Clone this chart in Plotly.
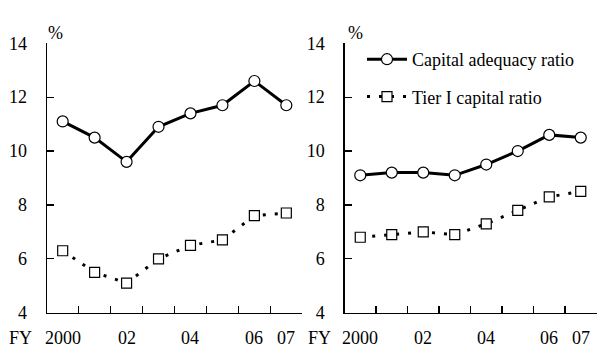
import plotly.graph_objects as go

years = [0, 1, 2, 3, 4, 5, 6, 7]
year_labels = ["2000", "02", "04", "06", "07"]
label_pos = [0, 2, 4, 6, 7]
boundaries = [-0.5, 0.5, 1.5, 2.5, 3.5, 4.5, 5.5, 6.5, 7.5]

major_car = [11.1, 10.5, 9.6, 10.9, 11.4, 11.7, 12.6, 11.7]
major_tier1 = [6.3, 5.5, 5.1, 6.0, 6.5, 6.7, 7.6, 7.7]
regional_car = [9.1, 9.2, 9.2, 9.1, 9.5, 10.0, 10.6, 10.5]
regional_tier1 = [6.8, 6.9, 7.0, 6.9, 7.3, 7.8, 8.3, 8.5]

y_ticks = [4, 6, 8, 10, 12, 14]
FONT = "Liberation Serif, Times New Roman, serif"
FS = 18
W, H = 598, 354

fig = go.Figure()

def add_panel(car, t1, xa, ya, show):
    fig.add_trace(go.Scatter(
        x=years, y=car, xaxis=xa, yaxis=ya, mode="lines+markers",
        name="Capital adequacy ratio", showlegend=show, legendgroup="a",
        line=dict(color="black", width=3),
        marker=dict(symbol="circle", size=11, color="white",
                    line=dict(color="black", width=1.2)),
        cliponaxis=False))
    fig.add_trace(go.Scatter(
        x=years, y=t1, xaxis=xa, yaxis=ya, mode="lines+markers",
        name="Tier I capital ratio", showlegend=show, legendgroup="b",
        line=dict(color="black", width=3, dash="3px,9px"),
        marker=dict(symbol="square", size=10, color="white",
                    line=dict(color="black", width=1.2)),
        cliponaxis=False))

add_panel(major_car, major_tier1, "x", "y", True)
add_panel(regional_car, regional_tier1, "x2", "y2", False)

xdom1 = [46.7 / W, 302.3 / W]
xdom2 = [344.5 / W, 596.5 / W]
ydom = [1 - 312.7 / H, 1 - 43.3 / H]

tickfont = dict(family=FONT, size=FS, color="black")

xcommon = dict(
    range=[-0.5, 7.5], tickmode="array", tickvals=boundaries,
    ticktext=[""] * len(boundaries), ticks="inside", ticklen=7,
    tickcolor="black", tickwidth=1.2, showline=True, linecolor="black",
    linewidth=1.2, showgrid=False, zeroline=False, automargin=False,
)
ycommon = dict(
    range=[4, 14], tickmode="array", tickvals=y_ticks, ticks="inside", ticklen=7,
    tickcolor="black", tickwidth=1.2, showline=True, linecolor="black",
    linewidth=1.2, showgrid=False, zeroline=False, ticklabelstandoff=15,
    tickfont=tickfont, automargin=False,
)

fig.update_layout(
    width=W, height=H, margin=dict(l=0, r=0, t=0, b=0),
    paper_bgcolor="white", plot_bgcolor="white",
    font=dict(family=FONT, size=FS, color="black"),
    xaxis=dict(domain=xdom1, anchor="y", **xcommon),
    yaxis=dict(domain=ydom, anchor="x", **ycommon),
    xaxis2=dict(domain=xdom2, anchor="y2", **xcommon),
    yaxis2=dict(domain=ydom, anchor="x2", **ycommon),
    legend=dict(x=362 / W, y=1 - 41 / H, xanchor="left", yanchor="top",
                bgcolor="rgba(0,0,0,0)", font=tickfont,
                traceorder="grouped", tracegroupgap=11, itemwidth=40),
    showlegend=True,
)

label_y = 1 - 338 / H
for xr in ["x", "x2"]:
    for pos, lab in zip(label_pos, year_labels):
        fig.add_annotation(xref=xr, yref="paper", x=pos, y=label_y, text=lab,
                           showarrow=False, xanchor="center", yanchor="middle",
                           font=tickfont)

annotations = [
    dict(text="%", x=55 / W, y=1 - 33 / H),
    dict(text="%", x=355 / W, y=1 - 33 / H),
    dict(text="FY", x=20 / W, y=label_y),
    dict(text="FY", x=319 / W, y=label_y),
]
for a in annotations:
    fig.add_annotation(xref="paper", yref="paper", showarrow=False,
                       xanchor="center", yanchor="middle",
                       font=tickfont, **a)

fig.write_html("out.html", config={"displayModeBar": False, "staticPlot": True},
               post_script="document.body.style.margin='0';document.body.style.padding='0';")
